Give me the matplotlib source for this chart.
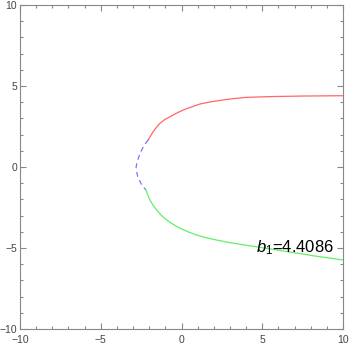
import matplotlib

matplotlib.use("Agg")
import matplotlib.pyplot as plt
from matplotlib.ticker import MultipleLocator

plt.rcParams["font.family"] = ["Liberation Sans", "DejaVu Sans"]
plt.rcParams["mathtext.fontset"] = "custom"
plt.rcParams["mathtext.rm"] = "Liberation Sans"
plt.rcParams["mathtext.it"] = "Liberation Sans:italic"

# upper branch (red)
red_x = [-2.06, -1.9, -1.75, -1.55, -1.33, -1.05, -0.71, -0.35, 0.11, 0.6,
         1.15, 1.8, 2.59, 3.2, 4.04, 5.67, 7.5, 10.0]
red_y = [1.67, 1.95, 2.18, 2.45, 2.70, 2.92, 3.10, 3.30, 3.52, 3.70,
         3.89, 4.02, 4.14, 4.22, 4.30, 4.35, 4.38, 4.40]
# connecting branch (blue, dashed)
blue_x = [-2.06, -2.30, -2.57, -2.77, -2.82, -2.71, -2.46, -2.20]
blue_y = [1.67, 1.36, 0.85, 0.23, -0.08, -0.60, -1.11, -1.42]
# lower branch (green)
green_x = [-2.20, -2.08, -1.95, -1.75, -1.54, -1.25, -0.92, -0.5, -0.09, 0.4,
           0.94, 1.5, 2.18, 2.9, 3.62, 5.0, 6.72, 8.3, 10.0]
green_y = [-1.42, -1.75, -2.04, -2.38, -2.65, -2.98, -3.27, -3.55, -3.78, -4.0,
           -4.20, -4.36, -4.51, -4.65, -4.77, -4.98, -5.25, -5.5, -5.74]

LABEL = r"$b_1$=4.4086"

fig = plt.figure(figsize=(3.49, 3.44), dpi=100)
ax = fig.add_axes([20 / 349, 15 / 344, 323 / 349, 324 / 344])

ax.plot(red_x, red_y, color="#ff6666", lw=0.9)
ax.plot(blue_x, blue_y, color="#7777ff", lw=0.9, dashes=(4, 3))
ax.plot(green_x, green_y, color="#66ee66", lw=0.9)
ax.text(4.6, -4.95, LABEL, fontsize=12, ha="left", va="center")

ax.set_xlim(-10, 10)
ax.set_ylim(-10, 10)
ax.xaxis.set_major_locator(MultipleLocator(5))
ax.yaxis.set_major_locator(MultipleLocator(5))
ax.xaxis.set_minor_locator(MultipleLocator(1))
ax.yaxis.set_minor_locator(MultipleLocator(1))
ax.tick_params(which="both", direction="in", top=True, right=True,
               color="#888888", width=0.8, labelsize=7.5, labelcolor="#444444")
ax.tick_params(which="major", length=4)
ax.tick_params(which="minor", length=2.5)
ax.tick_params(axis="x", pad=4.5)
ax.tick_params(axis="y", pad=2)
for s in ax.spines.values():
    s.set_color("#888888")
    s.set_linewidth(0.8)

fig.savefig("out.png", dpi=100)
